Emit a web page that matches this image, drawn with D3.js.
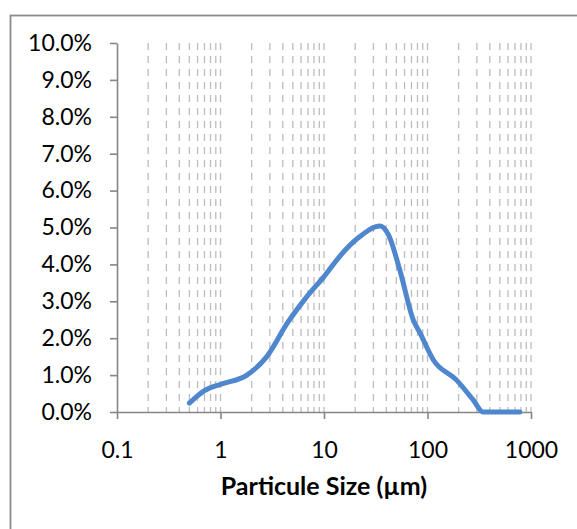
<!DOCTYPE html>
<html>
<head>
<meta charset="utf-8">
<script src="https://cdn.jsdelivr.net/npm/d3@7"></script>
<style>
  html, body { margin: 0; padding: 0; background: #fff; }
  svg { display: block; }
  .tick text { font-family: Lato, 'Open Sans', sans-serif; fill: #000; }
</style>
</head>
<body>
<svg id="chart" width="577" height="529"></svg>
<script>
// particle size (µm) and frequency (%)
const sizes = [0.5, 0.7, 1, 1.8, 2.8, 4.4, 6.8, 10, 14, 21, 35, 42, 54, 73, 85, 114, 190, 276, 345, 500, 780]
const freq = [0.24, 0.58, 0.75, 1.0, 1.5, 2.4, 3.12, 3.67, 4.2, 4.7, 5.04, 4.8, 3.85, 2.49, 2.13, 1.41, 0.87, 0.33, 0.0, 0.0, 0.0]

const xTicks = [0.1, 1, 10, 100, 1000]
const yTicks = [0, 1, 2, 3, 4, 5, 6, 7, 8, 9, 10]
const xTitle = 'Particule Size (µm)'

const svg = d3.select('#chart')

// chart frame (runs off the right and bottom edges)
svg.append('rect')
  .attr('x', 10.5)
  .attr('y', 15.5)
  .attr('width', 640)
  .attr('height', 640)
  .attr('fill', '#fff')
  .attr('stroke', '#8a8a8a')
  .attr('stroke-width', 1.8)

const x = d3.scaleLog().domain([0.1, 1000]).range([117, 531])
const y = d3.scaleLinear().domain([0, 10]).range([412, 43])

// dashed vertical grid at every log step
const gridVals = x.ticks().filter(d => d > 0.1)
svg.append('g')
  .attr('class', 'grid')
  .selectAll('line')
  .data(gridVals)
  .join('line')
  .attr('x1', d => x(d))
  .attr('x2', d => x(d))
  .attr('y1', y(10))
  .attr('y2', y(0))
  .attr('stroke', '#bdbdbd')
  .attr('stroke-width', 1.3)
  .attr('stroke-dasharray', '7,6')

// axes
const yAxis = svg.append('g')
  .attr('transform', `translate(${x(0.1)},0)`)
  .call(d3.axisLeft(y)
    .tickValues(yTicks)
    .tickFormat(d => d.toFixed(1) + '%')
    .tickSize(7)
    .tickPadding(18)
    .tickSizeOuter(0))

const xAxis = svg.append('g')
  .attr('transform', `translate(0,${y(0)})`)
  .call(d3.axisBottom(x)
    .tickValues(xTicks)
    .tickFormat(d => String(d))
    .tickSize(7)
    .tickPadding(23)
    .tickSizeOuter(0))

;[xAxis, yAxis].forEach(ax => {
  ax.select('.domain').attr('stroke', '#868686').attr('stroke-width', 1.6)
  ax.selectAll('.tick line').attr('stroke', '#868686').attr('stroke-width', 1.6)
  ax.selectAll('.tick text').attr('font-size', 23)
})

// size distribution curve
const line = d3.line()
  .x((d, i) => x(sizes[i]))
  .y(d => y(d))
  .curve(d3.curveMonotoneX)

svg.append('path')
  .datum(freq)
  .attr('d', line)
  .attr('fill', 'none')
  .attr('stroke', '#4f87cf')
  .attr('stroke-width', 5)
  .attr('stroke-linecap', 'round')
  .attr('stroke-linejoin', 'round')

// axis title
svg.append('text')
  .attr('x', (x.range()[0] + x.range()[1]) / 2)
  .attr('y', 495)
  .attr('text-anchor', 'middle')
  .attr('font-family', "Lato, 'Open Sans', sans-serif")
  .attr('font-weight', 'bold')
  .attr('font-size', 25)
  .attr('fill', '#000')
  .text(xTitle)
</script>
</body>
</html>
